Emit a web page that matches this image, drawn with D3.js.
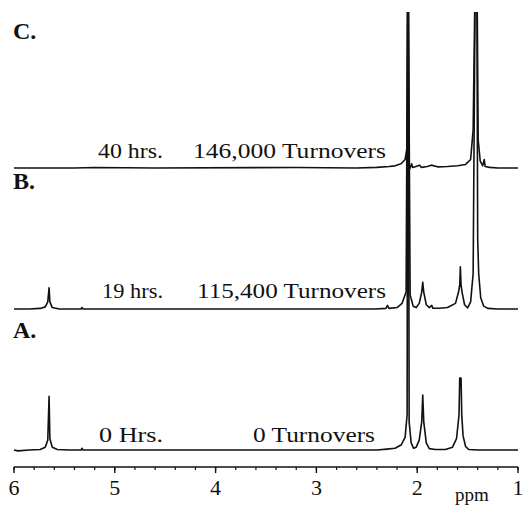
<!DOCTYPE html>
<html>
<head>
<meta charset="utf-8">
<script src="https://cdn.jsdelivr.net/npm/d3@7"></script>
<style>
    body { margin: 0; background: #fff; }
    text { font-family: "Liberation Serif", "Times New Roman", serif; fill: #111; }
</style>
</head>
<body>
<div id="container"></div>
<script>
// x axis (ppm, reversed as usual for NMR)
const ppmTicks = [6, 5, 4, 3, 2, 1];
const ppmMinorTicks = d3.range(60, 9, -2).map(d => d / 10);

// stack order bottom -> top
const panelNames = ["A.", "B.", "C."];
const timeLabels = ["0 Hrs.", "19 hrs.", "40 hrs."];
const turnoverLabels = ["0 Turnovers", "115,400 Turnovers", "146,000 Turnovers"];

// [ppm, intensity] (1 unit = spacing between spectra)
const spectrumA = [
    [6.0, 0], [5.96, -0.006], [5.85, 0], [5.74, 0.004], [5.69, 0.02], [5.665, 0.07],
    [5.652, 0.38], [5.644, 0.08], [5.62, 0.02], [5.57, 0.004], [5.45, 0],
    [5.335, 0], [5.325, 0.012], [5.315, 0], [2.40, 0], [2.30, 0.006], [2.22, 0.012],
    [2.16, 0.035], [2.12, 0.09], [2.10, 0.25], [2.094, 3.4], [2.088, 3.4], [2.08, 0.2],
    [2.06, 0.05], [2.035, 0.012], [2.01, 0.02], [1.98, 0.07], [1.955, 0.2],
    [1.945, 0.39], [1.935, 0.2], [1.91, 0.05], [1.88, 0.01], [1.82, 0.004],
    [1.72, 0.004], [1.65, 0.02], [1.61, 0.08], [1.585, 0.25], [1.578, 0.51],
    [1.565, 0.51], [1.558, 0.25], [1.545, 0.1], [1.52, 0.025], [1.49, 0.004],
    [1.40, 0], [1.0, 0]
];

const spectrumB = [
    [6.0, 0], [5.85, 0], [5.74, 0.004], [5.69, 0.015], [5.665, 0.05],
    [5.652, 0.15], [5.644, 0.05], [5.62, 0.01], [5.55, 0], [5.335, 0],
    [5.325, 0.01], [5.315, 0], [2.42, 0], [2.31, 0.004], [2.295, 0.025],
    [2.28, 0.004], [2.20, 0.01], [2.15, 0.04], [2.11, 0.12], [2.095, 2.3],
    [2.088, 2.3], [2.07, 0.1], [2.04, 0.02], [2.01, 0.01], [1.98, 0.04],
    [1.955, 0.12], [1.945, 0.19], [1.935, 0.12], [1.91, 0.03], [1.88, 0.01],
    [1.855, 0.025], [1.845, 0.005], [1.78, 0.005], [1.70, 0.01], [1.62, 0.04],
    [1.59, 0.12], [1.578, 0.17], [1.572, 0.3], [1.565, 0.17], [1.555, 0.12],
    [1.53, 0.03], [1.50, 0.008], [1.47, 0.05], [1.445, 0.25], [1.425, 2.3],
    [1.408, 2.3], [1.40, 0.5], [1.39, 0.25], [1.37, 0.08], [1.34, 0.02],
    [1.30, 0.004], [1.20, 0], [1.0, 0]
];

const spectrumC = [
    [6.0, 0], [5.4, 0], [5.2, 0.003], [4.6, 0], [3.2, 0.003], [2.6, 0],
    [2.40, 0.004], [2.28, 0.01], [2.22, 0.015], [2.16, 0.03], [2.12, 0.06],
    [2.10, 0.15], [2.095, 1.2], [2.089, 1.2], [2.082, -0.015], [2.07, 0],
    [2.055, 0.03], [2.045, 0.004], [2.02, 0.008], [1.975, 0.02], [1.96, 0.004],
    [1.90, 0.01], [1.86, 0.02], [1.80, 0.008], [1.70, 0.01], [1.60, 0.016],
    [1.52, 0.025], [1.47, 0.06], [1.445, 0.27], [1.428, 1.2], [1.405, 1.2],
    [1.395, 0.2], [1.375, 0.05], [1.35, 0.015], [1.335, 0.06], [1.325, 0.01],
    [1.28, 0.004], [1.2, 0], [1.0, 0]
];

const spectra = [spectrumA, spectrumB, spectrumC];

function drawChart() {
    const width = 527;
    const height = 506;

    const x = d3.scaleLinear().domain([6, 1]).range([14, 518]);
    // stacked offsets: spectrum i sits at intensity i
    const y = d3.scaleLinear().domain([0, 3.106]).range([450, 12]);

    const svg = d3.create("svg")
        .attr("width", width)
        .attr("height", height)
        .attr("viewBox", [0, 0, width, height]);

    svg.append("defs").append("clipPath")
        .attr("id", "plotClip")
        .append("rect")
        .attr("x", 0).attr("y", 12)
        .attr("width", width).attr("height", 458);

    const line = d3.line()
        .x(d => x(d[0]))
        .y(d => d[1]);

    const traces = svg.append("g").attr("clip-path", "url(#plotClip)");
    spectra.forEach((spec, i) => {
        const pts = spec.map(d => [d[0], y(d[1] + i)]);
        traces.append("path")
            .attr("d", line(pts))
            .attr("fill", "none")
            .attr("stroke", "#111")
            .attr("stroke-width", 1.6)
            .attr("stroke-linejoin", "round");
    });

    // axis
    const axisY = 467;
    const axis = svg.append("g").attr("transform", `translate(0,${axisY})`);
    axis.append("line")
        .attr("x1", x(6)).attr("x2", x(1))
        .attr("stroke", "#111").attr("stroke-width", 1.4);
    axis.selectAll(".minor")
        .data(ppmMinorTicks)
        .join("line")
        .attr("x1", d => x(d)).attr("x2", d => x(d))
        .attr("y1", 0).attr("y2", 3)
        .attr("stroke", "#111").attr("stroke-width", 1.2);
    axis.selectAll(".major")
        .data(ppmTicks)
        .join("line")
        .attr("x1", d => x(d)).attr("x2", d => x(d))
        .attr("y1", 0).attr("y2", 6)
        .attr("stroke", "#111").attr("stroke-width", 1.4);
    axis.selectAll(".tickLabel")
        .data(ppmTicks)
        .join("text")
        .attr("x", d => x(d))
        .attr("y", 28)
        .attr("text-anchor", "middle")
        .attr("font-size", 22)
        .text(d => d);
    svg.append("text")
        .attr("x", 455).attr("y", 501)
        .attr("font-size", 19)
        .text("ppm");

    // panel letters and run labels
    const letterY = [338, 189, 39];
    const labelY = [442, 298, 158];
    const timeX = [[99, 64], [102, 61], [98, 65]];
    const turnX = [[253, 122], [197, 189], [193, 193]];

    svg.selectAll(".panel")
        .data(panelNames)
        .join("text")
        .attr("x", 13)
        .attr("y", (d, i) => letterY[i])
        .attr("font-size", 24)
        .attr("font-weight", "bold")
        .text(d => d);

    svg.selectAll(".time")
        .data(timeLabels)
        .join("text")
        .attr("x", (d, i) => timeX[i][0])
        .attr("y", (d, i) => labelY[i])
        .attr("font-size", 21)
        .attr("textLength", (d, i) => timeX[i][1])
        .attr("lengthAdjust", "spacingAndGlyphs")
        .text(d => d);

    svg.selectAll(".turn")
        .data(turnoverLabels)
        .join("text")
        .attr("x", (d, i) => turnX[i][0])
        .attr("y", (d, i) => labelY[i])
        .attr("font-size", 21)
        .attr("textLength", (d, i) => turnX[i][1])
        .attr("lengthAdjust", "spacingAndGlyphs")
        .text(d => d);

    document.getElementById("container").appendChild(svg.node());
}

drawChart();
</script>
</body>
</html>
